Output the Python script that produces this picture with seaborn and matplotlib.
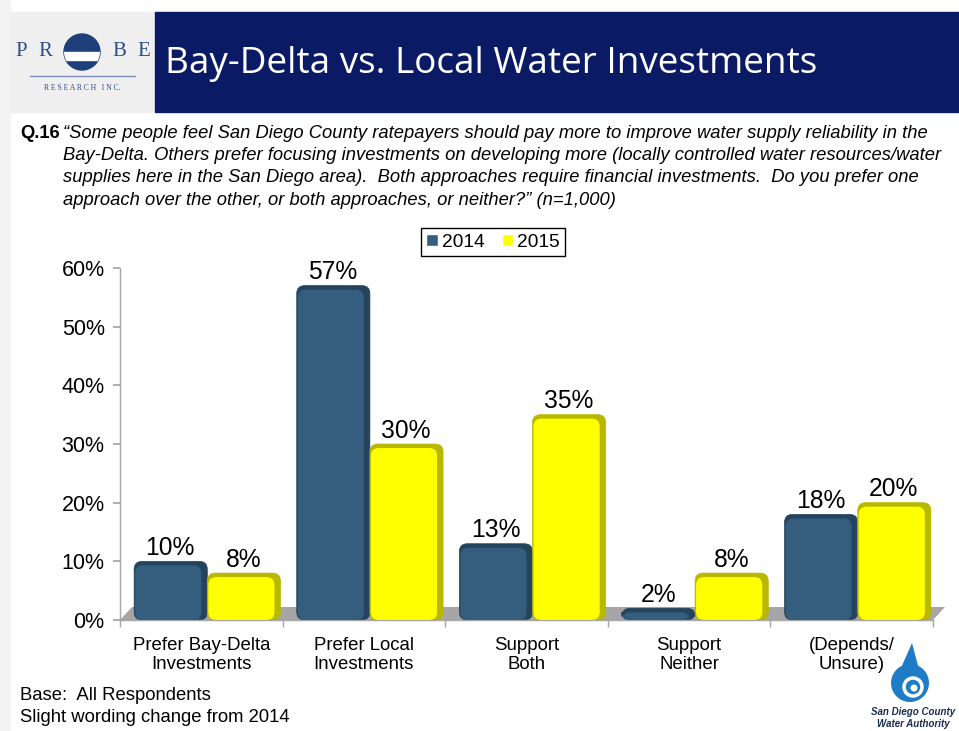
import numpy as np
import pandas as pd
import seaborn as sns
import matplotlib.pyplot as plt
from matplotlib.patches import Rectangle, FancyBboxPatch, Polygon, Ellipse

# datos del grafico
categories = ["Prefer Bay-Delta\nInvestments", "Prefer Local\nInvestments", "Support\nBoth",
              "Support\nNeither", "(Depends/\nUnsure)"]
years = ["2014", "2015"]
vals_2014 = [10, 57, 13, 2, 18]
vals_2015 = [8, 30, 35, 8, 20]
yticks = [0, 10, 20, 30, 40, 50, 60]
colors = ["#355D7E", "#FFFF00"]
dark_colors = ["#24435C", "#B8B800"]

df = pd.DataFrame({
    "cat": categories * 2,
    "year": [years[0]] * len(categories) + [years[1]] * len(categories),
    "pct": vals_2014 + vals_2015,
})

sns.set_theme(style="white")
plt.rcParams["font.family"] = ["Liberation Sans", "DejaVu Sans"]
plt.rcParams["text.color"] = "black"

W, H = 959, 731
fig = plt.figure(figsize=(W / 100, H / 100), dpi=100)


def fx(px):
    return px / W


def fy(py):
    return 1 - py / H


# cabecera
fig.patches.append(Rectangle((0, fy(731)), fx(10), 1, transform=fig.transFigure,
                             color="#F3F3F3", zorder=0))
fig.patches.append(Rectangle((fx(10), fy(112)), fx(145), 100 / H, transform=fig.transFigure,
                             color="#EFEFEF", zorder=0))
fig.patches.append(Rectangle((fx(155), fy(112)), 1 - fx(155), 100 / H, transform=fig.transFigure,
                             color="#0B1A64", zorder=1))
fig.text(fx(165), fy(64), "Bay-Delta vs. Local Water Investments", color="white",
         fontsize=26.6, family="Open Sans", va="center", ha="left")

# logo PROBE
logo_col = "#2E4E86"
for letter, px in zip("PRBE", [21, 45, 119, 144]):
    fig.text(fx(px), fy(52), letter, family="Liberation Serif", fontsize=15,
             color=logo_col, ha="center", va="center")
circ = Ellipse((fx(82), fy(52)), 36 / W, 36 / H, transform=fig.transFigure,
               color="#1F3F7A", zorder=2)
fig.patches.append(circ)
band = Rectangle((fx(60), fy(60)), fx(44), 8 / H, transform=fig.transFigure,
                 color="white", zorder=3)
band.set_clip_path(circ)
fig.patches.append(band)
fig.add_artist(plt.Line2D([fx(30), fx(135)], [fy(76), fy(76)], transform=fig.transFigure,
                          color="#7A90B8", lw=1))
fig.text(fx(82), fy(88), "R E S E A R C H   I N C.", family="Liberation Serif", fontsize=5.5,
         color=logo_col, ha="center", va="center")

# pregunta
fig.text(fx(20), fy(133), "Q.16", fontsize=13.2, weight="bold", va="center")
q_lines = [
    "\u201cSome people feel San Diego County ratepayers should pay more to improve water supply reliability in the",
    "Bay-Delta. Others prefer focusing investments on developing more (locally controlled water resources/water",
    "supplies here in the San Diego area).  Both approaches require financial investments.  Do you prefer one",
    "approach over the other, or both approaches, or neither?\u201d (n=1,000)",
]
for i, line in enumerate(q_lines):
    fig.text(fx(63), fy(133 + 22.4 * i), line, fontsize=13.2, style="italic", va="center")

# grafico de barras
ax = fig.add_axes([fx(120), fy(620), (933 - 120) / W, (620 - 268) / H])
sns.barplot(data=df, x="cat", y="pct", hue="year", palette=colors, width=0.9, gap=0,
            saturation=1, ax=ax)

ax.set_xlim(-0.5, 4.5)
ax.set_ylim(0, 60)

# escala de pixeles por unidad para redondear esquinas
ppx = (933 - 120) / 5.0
ppy = (620 - 268) / 60.0
asp = ppx / ppy
shift = 6 / ppx  # desplazamiento de perspectiva
for cont, col, dcol in zip(ax.containers, colors, dark_colors):
    for bar in cont:
        x, y, w, h = bar.get_x() + shift, bar.get_y(), bar.get_width(), bar.get_height()
        bar.set_visible(False)
        r = 8 / ppx
        back = FancyBboxPatch((x, y), w, h, boxstyle=f"round,pad=0,rounding_size={r}",
                              mutation_aspect=asp, fc=dcol, ec=dcol, lw=0.5, zorder=2)
        ax.add_patch(back)
        face = FancyBboxPatch((x + 1 / ppx, y), w - 7 / ppx, max(h - 4 / ppy, 0.01),
                              boxstyle=f"round,pad=0,rounding_size={r}",
                              mutation_aspect=asp, fc=col, ec="none", zorder=3)
        ax.add_patch(face)
    anns = ax.bar_label(cont, labels=[f"{v:.0f}%" for v in cont.datavalues], padding=1,
                        fontsize=17.7, color="black")
    for a in anns:
        a.xyann = (a.xyann[0] + 4, a.xyann[1])

# piso gris
floor = Polygon([(0, 0), (1, 0), (1 + 12 / 813, 13 / 352), (12 / 813, 13 / 352)],
                closed=True, transform=ax.transAxes, fc="#A6A6A6", ec="none",
                zorder=1, clip_on=False)
ax.add_patch(floor)

for s in ["top", "right"]:
    ax.spines[s].set_visible(False)
for s in ["left", "bottom"]:
    ax.spines[s].set_color("#A6A6A6")
    ax.spines[s].set_linewidth(1)

ax.set_yticks(yticks)
ax.set_yticklabels([f"{t}%" for t in yticks], fontsize=15.5)
ax.tick_params(axis="y", length=5, color="#A6A6A6", direction="out", left=True, pad=6,
               labelcolor="black")
ax.set_xticks(range(len(categories)))
ax.set_xticklabels(categories, fontsize=13.4, linespacing=1.2)
ax.set_xticks(np.arange(-0.5, len(categories), 1.0), minor=True)
ax.tick_params(axis="x", which="major", length=0, pad=12, labelcolor="black")
ax.tick_params(axis="x", which="minor", length=5, color="#A6A6A6", bottom=True)
ax.set_xlabel("")
ax.set_ylabel("")

leg = ax.legend(loc="center", bbox_to_anchor=(fx(493), fy(242)), bbox_transform=fig.transFigure,
                ncol=2, frameon=True, fancybox=False, edgecolor="black", fontsize=13.8,
                handlelength=0.6, handleheight=0.6, handletextpad=0.2, columnspacing=0.9,
                borderpad=0.3, framealpha=1)
leg.get_frame().set_linewidth(1)
for txt in leg.get_texts():
    txt.set_color("black")

# notas
fig.text(fx(20), fy(695), "Base:  All Respondents", fontsize=13.3, va="center")
fig.text(fx(20), fy(718), "Slight wording change from 2014", fontsize=13.3, va="center")

# logo SDCWA (gota)
t = np.linspace(np.deg2rad(115), np.deg2rad(425), 60)
cx, cy, rr = 910, 683, 19
pts = [(fx(cx + rr * np.cos(a)), fy(cy - rr * np.sin(a))) for a in t]
pts.append((fx(912), fy(643)))
fig.patches.append(Polygon(pts, closed=True, transform=fig.transFigure, fc="#1E7BC6", ec="none"))
fig.patches.append(Ellipse((fx(913), fy(687)), 18 / W, 18 / H, transform=fig.transFigure,
                           fc="none", ec="white", lw=2.5))
fig.patches.append(Ellipse((fx(914), fy(688)), 7 / W, 7 / H, transform=fig.transFigure,
                           fc="white", ec="none"))
fig.text(fx(913), fy(712), "San Diego County", fontsize=7, style="italic", weight="bold",
         color="#1A2A50", ha="center", va="center")
fig.text(fx(913), fy(724), "Water Authority", fontsize=7, style="italic", weight="bold",
         color="#1A2A50", ha="center", va="center")

plt.savefig("out.png", dpi=100)
